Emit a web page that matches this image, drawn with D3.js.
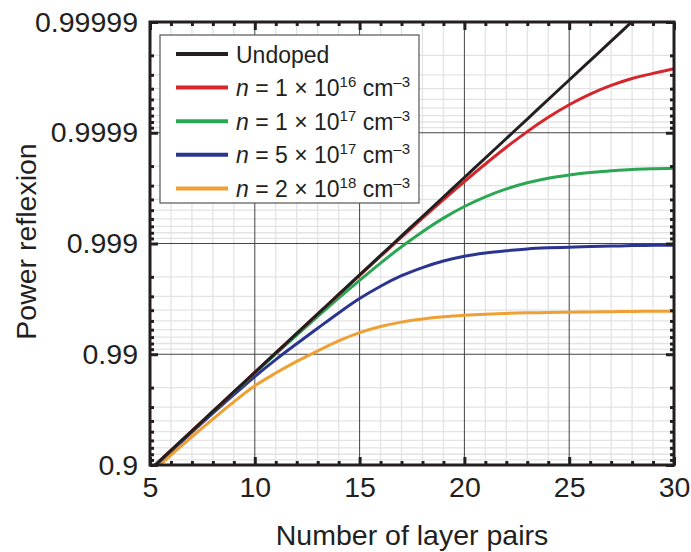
<!DOCTYPE html>
<html>
<head>
<meta charset="utf-8">
<script src="https://cdn.jsdelivr.net/npm/d3@7"></script>
<style>
	body { margin: 0; background: #fff; }
	text { font-family: "Liberation Sans", Arial, Helvetica, sans-serif; fill: #231f20; }
</style>
</head>
<body>
<svg width="691" height="552"></svg>
<script>
// number of layer pairs
const layerPairs = [5, 6, 7, 8, 9, 10, 11, 12, 13, 14, 15, 16, 17, 18, 19, 20, 21, 22, 23, 24, 25, 26, 27, 28, 29, 30];

// power reflexion
const undoped = [0.8893, 0.92621, 0.95080, 0.96719, 0.97812, 0.98541, 0.990273, 0.993514, 0.995675, 0.997116,
	0.998077, 0.998718, 0.999145, 0.9994298, 0.9996198, 0.9997465, 0.9998310, 0.9998873, 0.9999248, 0.9999499,
	0.9999666, 0.9999777, 0.9999851, 0.9999901, 0.9999934, 0.9999956];
const n1e16 = [0.88929, 0.92620, 0.95079, 0.96718, 0.97811, 0.98540, 0.990262, 0.993502, 0.995662, 0.997102,
	0.998057, 0.9986975, 0.999124, 0.9994083, 0.9995978, 0.999724, 0.9998085, 0.9998648, 0.9999023, 0.9999274,
	0.9999441, 0.9999552, 0.9999626, 0.9999676, 0.9999709, 0.9999736];
const n1e17 = [0.8891, 0.92601, 0.9506, 0.96699, 0.97792, 0.98521, 0.990063, 0.993294, 0.995445, 0.996886,
	0.997847, 0.998498, 0.99893, 0.999218, 0.99941, 0.9995365, 0.999621, 0.9996783, 0.9997168, 0.9997429,
	0.9997596, 0.9997717, 0.9997791, 0.9997851, 0.9997884, 0.9997906];
const n5e17 = [0.8881, 0.92501, 0.9496, 0.96599, 0.97682, 0.98411, 0.988823, 0.991964, 0.994175, 0.995766,
	0.996857, 0.997568, 0.998045, 0.99835, 0.99856, 0.9986965, 0.998781, 0.9988373, 0.9988798, 0.9989049,
	0.9989216, 0.9989377, 0.9989451, 0.9989551, 0.9989614, 0.9989656];
const n2e18 = [0.8798, 0.91872, 0.94441, 0.96154, 0.97308, 0.98072, 0.98521, 0.98839, 0.990667, 0.992414,
	0.993617, 0.994377, 0.994871, 0.995192, 0.995408, 0.995554, 0.995655, 0.995724, 0.995773, 0.995802,
	0.995831, 0.995850, 0.995870, 0.995889, 0.995907, 0.995917];

const seriesNames = ["Undoped", "n1e16", "n1e17", "n5e17", "n2e18"];
const legendMantissa = [null, "1", "1", "5", "2"];
const legendExponent = [null, "16", "17", "17", "18"];

const xTickValues = [5, 10, 15, 20, 25, 30];
const yTickValues = [0.9, 0.99, 0.999, 0.9999, 0.99999];
const yTickLabels = ["0.9", "0.99", "0.999", "0.9999", "0.99999"];

const colours = ["#231f20", "#d6252b", "#2ba653", "#2b3590", "#eea032"];
const seriesValues = [undoped, n1e16, n1e17, n5e17, n2e18];

const svg = d3.select("svg");
const margin = {top: 22, right: 17, bottom: 87, left: 150};
const width = +svg.attr("width") - margin.left - margin.right;
const height = +svg.attr("height") - margin.top - margin.bottom;
const fontSize = "28.5px";

// x is linear, y is log of (1 - R) so 0.9 sits at the bottom
let x = d3.scaleLinear().domain([5, 30]).range([0, width]);
let y = d3.scaleLog().domain([0.1, 1e-5]).range([height, 0]);
const yOf = function(r) { return y(1 - r); };

let g = svg.append("g").attr("transform", "translate(" + margin.left + "," + margin.top + ")");

// minor positions
let xMinor = layerPairs.filter(function(d) { return d % 5 !== 0; });
let yMinor = [];
[1e-5, 1e-4, 1e-3, 1e-2].forEach(function(dec) {
	for (let k = 2; k <= 9; k++) yMinor.push(k * dec);
});
let yMajorLoss = yTickValues.map(function(r) { return 1 - r; });

// grid
let grid = g.append("g").attr("class", "grid");
grid.selectAll("line.xminor").data(xMinor).enter().append("line")
	.attr("x1", function(d) { return x(d); }).attr("x2", function(d) { return x(d); })
	.attr("y1", 0).attr("y2", height)
	.attr("stroke", "#e3e3e3").attr("stroke-width", 1.3);
grid.selectAll("line.yminor").data(yMinor).enter().append("line")
	.attr("y1", function(d) { return y(d); }).attr("y2", function(d) { return y(d); })
	.attr("x1", 0).attr("x2", width)
	.attr("stroke", "#e3e3e3").attr("stroke-width", 1.3);
grid.selectAll("line.xmajor").data([10, 15, 20, 25]).enter().append("line")
	.attr("x1", function(d) { return x(d); }).attr("x2", function(d) { return x(d); })
	.attr("y1", 0).attr("y2", height)
	.attr("stroke", "#444").attr("stroke-width", 1);
grid.selectAll("line.ymajor").data(yMajorLoss.slice(1, 4)).enter().append("line")
	.attr("y1", function(d) { return y(d); }).attr("y2", function(d) { return y(d); })
	.attr("x1", 0).attr("x2", width)
	.attr("stroke", "#444").attr("stroke-width", 1);

// curves
svg.append("defs").append("clipPath").attr("id", "plot")
	.append("rect").attr("width", width).attr("height", height);

let line = d3.line()
	.x(function(d) { return x(d[0]); })
	.y(function(d) { return yOf(d[1]); })
	.curve(d3.curveMonotoneX);

g.append("g").attr("clip-path", "url(#plot)")
	.selectAll("path").data(seriesValues.slice().reverse()).enter().append("path")
	.attr("d", function(vals) { return line(layerPairs.map(function(p, i) { return [p, vals[i]]; })); })
	.attr("fill", "none")
	.attr("stroke", function(d, i) { return colours[seriesValues.length - 1 - i]; })
	.attr("stroke-width", 3)
	.attr("stroke-linejoin", "round");

// axes, ticks point inward on all four sides
function styleAxis(sel) {
	sel.select(".domain").remove();
	sel.selectAll(".tick line").attr("stroke", "#231f20").attr("stroke-width", 3);
	sel.selectAll("text").style("font-size", fontSize).attr("fill", "#231f20");
}

let fmtY = function(d) { return yTickLabels[yMajorLoss.indexOf(d)]; };

g.append("g").attr("transform", "translate(0," + height + ")")
	.call(d3.axisBottom(x).tickValues(xTickValues).tickSize(-8).tickPadding(12).tickFormat(d3.format("d")))
	.call(styleAxis);
g.append("g").attr("transform", "translate(0," + height + ")")
	.call(d3.axisBottom(x).tickValues(xMinor).tickSize(-4).tickFormat(""))
	.call(styleAxis);
g.append("g")
	.call(d3.axisTop(x).tickValues(xTickValues).tickSize(-8).tickFormat(""))
	.call(styleAxis);
g.append("g")
	.call(d3.axisTop(x).tickValues(xMinor).tickSize(-4).tickFormat(""))
	.call(styleAxis);

g.append("g")
	.call(d3.axisLeft(y).tickValues(yMajorLoss).tickSize(-8).tickPadding(12).tickFormat(fmtY))
	.call(styleAxis);
g.append("g")
	.call(d3.axisLeft(y).tickValues(yMinor).tickSize(-4).tickFormat(""))
	.call(styleAxis);
g.append("g").attr("transform", "translate(" + width + ",0)")
	.call(d3.axisRight(y).tickValues(yMajorLoss).tickSize(-8).tickFormat(""))
	.call(styleAxis);
g.append("g").attr("transform", "translate(" + width + ",0)")
	.call(d3.axisRight(y).tickValues(yMinor).tickSize(-4).tickFormat(""))
	.call(styleAxis);

// frame
g.append("rect")
	.attr("width", width).attr("height", height)
	.attr("fill", "none").attr("stroke", "#231f20").attr("stroke-width", 3);

// axis titles
svg.append("text")
	.attr("x", margin.left + width / 2).attr("y", 545)
	.attr("text-anchor", "middle").style("font-size", fontSize)
	.text("Number of layer pairs");
svg.append("text")
	.attr("transform", "translate(36," + (margin.top + height / 2 - 2) + ") rotate(-90)")
	.attr("text-anchor", "middle").style("font-size", fontSize)
	.text("Power reflexion");

// legend
let legend = g.append("g").attr("transform", "translate(10,13)");
legend.append("rect")
	.attr("width", 259).attr("height", 168)
	.attr("fill", "#fff").attr("stroke", "#555").attr("stroke-width", 1.2);

let rows = legend.selectAll("g.row").data(seriesNames).enter().append("g")
	.attr("class", "row")
	.attr("transform", function(d, i) { return "translate(0," + (19 + i * 33.6) + ")"; });
rows.append("line")
	.attr("x1", 16).attr("x2", 68)
	.attr("stroke", function(d, i) { return colours[i]; })
	.attr("stroke-width", 4);
rows.each(function(d, i) {
	let t = d3.select(this).append("text")
		.attr("x", 76).attr("y", 8.5)
		.style("font-size", "23px");
	if (legendMantissa[i] === null) {
		t.text(d);
		return;
	}
	t.append("tspan").style("font-style", "italic").text("n");
	t.append("tspan").text(" = " + legendMantissa[i] + " \u00d7 10");
	t.append("tspan").attr("dy", -9).style("font-size", "15px").text(legendExponent[i]);
	t.append("tspan").attr("dy", 9).text(" cm");
	t.append("tspan").attr("dy", -9).style("font-size", "15px").text("\u20133");
});
</script>
</body>
</html>
